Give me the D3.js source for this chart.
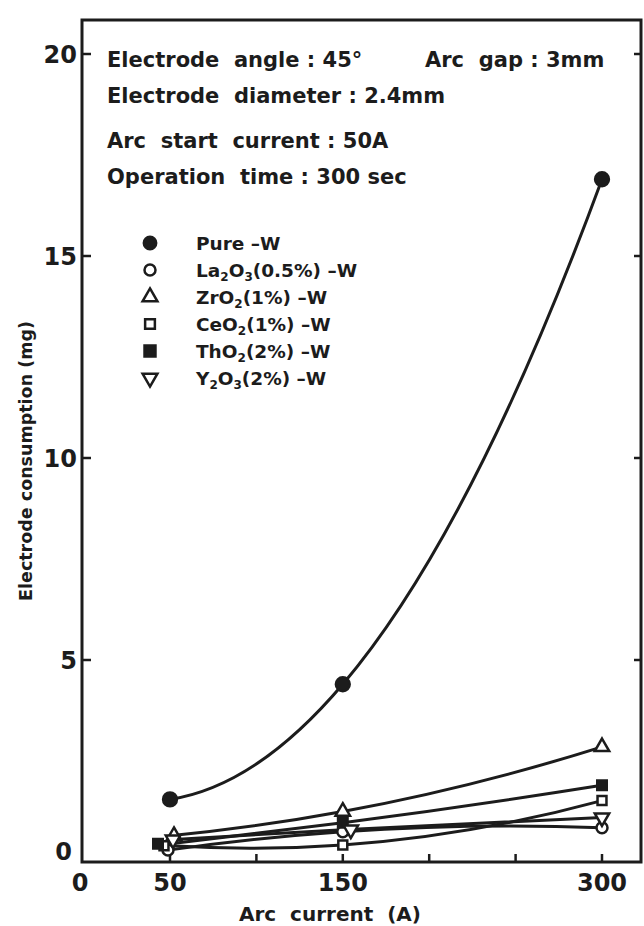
<!DOCTYPE html>
<html lang="en">
<head>
<meta charset="utf-8">
<script src="https://cdn.jsdelivr.net/npm/d3@7"></script>
<style>
  body { margin: 0; background: #fff; }
  text { font-family: "DejaVu Sans", sans-serif; font-weight: bold; fill: #1c1c1c; }
</style>
</head>
<body>
<svg id="chart" width="644" height="926"></svg>
<script>
// arc current (A) at which consumption was measured
const currents = [50, 150, 300];

// electrode consumption (mg)
const pureW  = [1.55, 4.4, 16.9];
const la2o3  = [0.3, 0.75, 0.85];
const zro2   = [0.65, 1.25, 2.85];
const ceo2   = [0.4, 0.42, 1.52];
const tho2   = [0.45, 0.97, 1.9];
const y2o3   = [0.55, 0.8, 1.1];

const yTicks = [0, 5, 10, 15, 20];
const xTicks = [50, 100, 150, 200, 250, 300];
const xTickLabels = [0, 50, 150, 300];

const notes = [
  "Electrode  angle : 45°",
  "Electrode  diameter : 2.4mm",
  "Arc  start  current : 50A",
  "Operation  time : 300 sec"
];

const ink = "#1c1c1c";
let svg = d3.select("#chart");

let x = d3.scaleLinear().domain([0, 300]).range([83.6, 602]);
let y = d3.scaleLinear().domain([0, 20]).range([862, 54]);

let frameL = 82, frameR = 641, frameT = 20, frameB = 862;

// frame
svg.append("rect")
  .attr("x", frameL).attr("y", frameT)
  .attr("width", frameR - frameL).attr("height", frameB - frameT)
  .attr("fill", "none").attr("stroke", ink).attr("stroke-width", 3);

// y ticks, left and right, pointing in
yTicks.slice(1).forEach(v => {
  svg.append("line").attr("x1", frameL).attr("x2", frameL + 9)
    .attr("y1", y(v)).attr("y2", y(v)).attr("stroke", ink).attr("stroke-width", 2.5);
  svg.append("line").attr("x1", frameR - 7).attr("x2", frameR)
    .attr("y1", y(v)).attr("y2", y(v)).attr("stroke", ink).attr("stroke-width", 2.5);
});
svg.selectAll(".ylab").data(yTicks).enter().append("text")
  .attr("class", "ylab")
  .attr("x", v => v === 0 ? 72 : 77)
  .attr("y", v => v === 0 ? y(v) - 2 : y(v) + 9)
  .attr("text-anchor", "end")
  .attr("font-size", 24)
  .text(d => d);

// x ticks
xTicks.forEach(v => {
  svg.append("line").attr("x1", x(v)).attr("x2", x(v))
    .attr("y1", frameB).attr("y2", frameB - 8).attr("stroke", ink).attr("stroke-width", 2.5);
});
svg.selectAll(".xlab").data(xTickLabels).enter().append("text")
  .attr("class", "xlab")
  .attr("x", v => v === 0 ? 80 : x(v))
  .attr("y", 891)
  .attr("text-anchor", "middle")
  .attr("font-size", 24)
  .text(d => d);

// axis titles
svg.append("text")
  .attr("x", 330).attr("y", 921)
  .attr("text-anchor", "middle").attr("font-size", 20)
  .attr("xml:space", "preserve")
  .text("Arc  current  (A)");
svg.append("text")
  .attr("transform", "translate(32,461) rotate(-90)")
  .attr("text-anchor", "middle").attr("font-size", 17.5)
  .text("Electrode consumption (mg)");

// conditions
let noteY = [67, 103, 148, 184];
notes.forEach((t, i) => {
  svg.append("text").attr("x", 107).attr("y", noteY[i])
    .attr("font-size", 21).attr("xml:space", "preserve").text(t);
});
svg.append("text").attr("x", 425).attr("y", 67)
  .attr("font-size", 21).attr("xml:space", "preserve").text("Arc  gap : 3mm");

// smooth curve: cubic hermite with tangents from the parabola through neighbours
function ParabolicCurve(context) { this._context = context; }
ParabolicCurve.prototype = {
  areaStart() {}, areaEnd() {},
  lineStart() { this._pts = []; },
  point(px, py) { this._pts.push([+px, +py]); },
  lineEnd() {
    let p = this._pts, c = this._context, n = p.length;
    if (!n) return;
    let slope = i => (p[i + 1][1] - p[i][1]) / (p[i + 1][0] - p[i][0]);
    let tan = p.map((d, i) => {
      if (n < 3) return n === 2 ? slope(0) : 0;
      if (i === 0) {
        let h1 = p[1][0] - p[0][0], h2 = p[2][0] - p[1][0];
        return slope(0) - (slope(1) - slope(0)) * h1 / (h1 + h2);
      }
      if (i === n - 1) {
        let h1 = p[n - 2][0] - p[n - 3][0], h2 = p[n - 1][0] - p[n - 2][0];
        return slope(n - 2) + (slope(n - 2) - slope(n - 3)) * h2 / (h1 + h2);
      }
      let h1 = p[i][0] - p[i - 1][0], h2 = p[i + 1][0] - p[i][0];
      return (slope(i - 1) * h2 + slope(i) * h1) / (h1 + h2);
    });
    c.moveTo(p[0][0], p[0][1]);
    for (let i = 0; i < n - 1; i++) {
      let h = (p[i + 1][0] - p[i][0]) / 3;
      c.bezierCurveTo(p[i][0] + h, p[i][1] + tan[i] * h,
        p[i + 1][0] - h, p[i + 1][1] - tan[i + 1] * h,
        p[i + 1][0], p[i + 1][1]);
    }
  }
};
const curveParabolic = context => new ParabolicCurve(context);

// series
const triDown = {
  draw(ctx, size) {
    const h = Math.sqrt(size * 4 / Math.sqrt(3));
    const r = h / Math.sqrt(3);
    ctx.moveTo(0, r);
    ctx.lineTo(h / 2, -r / 2);
    ctx.lineTo(-h / 2, -r / 2);
    ctx.closePath();
  }
};

let series = [
  { name: "Pure", values: pureW, symbol: d3.symbolCircle, filled: true, size: 150 },
  { name: "La2O3", values: la2o3, symbol: d3.symbolCircle, filled: false, size: 95 },
  { name: "ZrO2", values: zro2, symbol: d3.symbolTriangle, filled: false, size: 90 },
  { name: "CeO2", values: ceo2, symbol: d3.symbolSquare, filled: false, size: 80 },
  { name: "ThO2", values: tho2, symbol: d3.symbolSquare, filled: true, size: 90 },
  { name: "Y2O3", values: y2o3, symbol: triDown, filled: false, size: 90 }
];

let line = d3.line()
  .x((d, i) => x(currents[i]))
  .y(d => y(d))
  .curve(curveParabolic);

series.forEach(s => {
  svg.append("path")
    .attr("d", line(s.values))
    .attr("fill", "none").attr("stroke", ink).attr("stroke-width", 3);
});

let xOff = { "Pure": [0, 0, 0], "La2O3": [-2, 0, 0], "ZrO2": [4, 0, 0], "CeO2": [-6, 0, 0], "ThO2": [-12, 0, 0], "Y2O3": [3, 8, 0] };
series.forEach(s => {
  s.values.forEach((v, i) => {
    svg.append("path")
      .attr("transform", "translate(" + (x(currents[i]) + xOff[s.name][i]) + "," + y(v) + ")")
      .attr("d", d3.symbol().type(s.symbol).size(s.size)())
      .attr("fill", s.filled ? ink : "#fff")
      .attr("stroke", ink).attr("stroke-width", 2.5);
  });
});

// legend
let legendRows = [
  ["Pure –W"],
  ["La", "2", "O", "3", "(0.5%) –W"],
  ["ZrO", "2", "(1%) –W"],
  ["CeO", "2", "(1%) –W"],
  ["ThO", "2", "(2%) –W"],
  ["Y", "2", "O", "3", "(2%) –W"]
];
legendRows.forEach((parts, i) => {
  let ly = 243 + i * 27;
  let s = series[i];
  svg.append("path")
    .attr("transform", "translate(150," + ly + ")")
    .attr("d", d3.symbol().type(s.symbol).size(s.filled ? 120 : 95)())
    .attr("fill", s.filled ? ink : "#fff")
    .attr("stroke", ink).attr("stroke-width", 2.5);
  let t = svg.append("text").attr("x", 196).attr("y", ly + 7).attr("font-size", 18.5);
  parts.forEach((p, k) => {
    let isSub = /^[23]$/.test(p) && k > 0;
    t.append("tspan")
      .attr("font-size", isSub ? 12 : 18.5)
      .attr("dy", isSub ? 4 : (k > 0 && /^[23]$/.test(parts[k - 1]) ? -4 : 0))
      .text(p);
  });
});
</script>
</body>
</html>
